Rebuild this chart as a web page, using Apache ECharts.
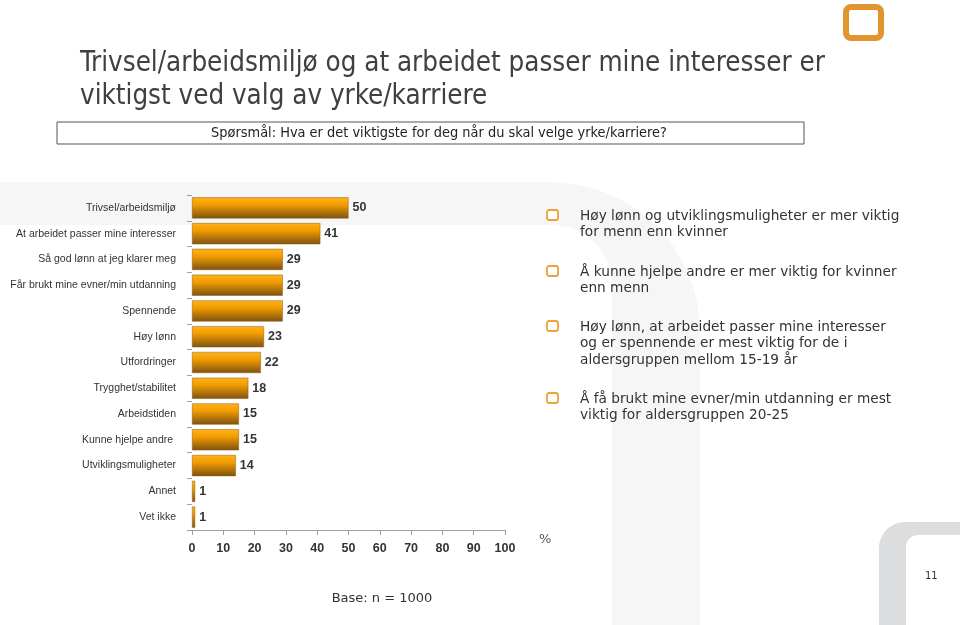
<!DOCTYPE html>
<html>
<head>
<meta charset="utf-8">
<script src="https://cdn.jsdelivr.net/npm/echarts@6/dist/echarts.min.js"></script>
<style>
  html, body { margin: 0; padding: 0; background: #fff; }
  #main { width: 960px; height: 625px; }
</style>
</head>
<body>
<div id="main"></div>
<script>
// answers, top to bottom
const categories = [
  'Trivsel/arbeidsmiljø',
  'At arbeidet passer mine interesser',
  'Så god lønn at jeg klarer meg',
  'Får brukt mine evner/min utdanning',
  'Spennende',
  'Høy lønn',
  'Utfordringer',
  'Trygghet/stabilitet',
  'Arbeidstiden',
  'Kunne hjelpe andre ',
  'Utviklingsmuligheter',
  'Annet',
  'Vet ikke'
];
const percent = [50, 41, 29, 29, 29, 23, 22, 18, 15, 15, 14, 1, 1];
const xTicks = [0, 10, 20, 30, 40, 50, 60, 70, 80, 90, 100];

const bullets = [
  ['Høy lønn og utviklingsmuligheter er mer viktig', 'for menn enn kvinner'],
  ['Å kunne hjelpe andre er mer viktig for kvinner', 'enn menn'],
  ['Høy lønn, at arbeidet passer mine interesser', 'og er spennende er mest viktig for de i', 'aldersgruppen mellom 15-19 år'],
  ['Å få brukt mine evner/min utdanning er mest', 'viktig for aldersgruppen 20-25']
];
const bulletTop = [215, 271, 326, 398];

const sans = 'DejaVu Sans, Verdana, sans-serif';
const narrow = 'DejaVu Sans Condensed, DejaVu Sans, sans-serif';

const graphics = [
  // big light arch in the background (outer shape, then white inside)
  {
    type: 'rect', x: 0, y: 182, z: -30, silent: true,
    shape: { width: 700, height: 443, r: [0, 150, 0, 0] },
    style: { fill: '#f6f6f6' }
  },
  {
    type: 'rect', x: 0, y: 225, z: -29, silent: true,
    shape: { width: 612, height: 400, r: [0, 60, 0, 0] },
    style: { fill: '#fff' }
  },
  // page corner
  {
    type: 'rect', x: 879, y: 522, z: -30, silent: true,
    shape: { width: 90, height: 110, r: [26, 0, 0, 0] },
    style: { fill: '#dcdddf' }
  },
  {
    type: 'rect', x: 906, y: 535, z: -29, silent: true,
    shape: { width: 60, height: 100, r: [12, 0, 0, 0] },
    style: { fill: '#fff' }
  },
  { type: 'text', x: 925, y: 571, style: { text: '11', font: '10px ' + sans, fill: '#333' } },
  // logo
  {
    type: 'rect', x: 846, y: 7, silent: true,
    shape: { width: 35, height: 31, r: 5 },
    style: { fill: '#fff', stroke: '#e0952f', lineWidth: 6 }
  },
  // title
  {
    type: 'text', x: 80, y: 47,
    style: {
      text: 'Trivsel/arbeidsmiljø og at arbeidet passer mine interesser er\nviktigst ved valg av yrke/karriere',
      font: '27.5px ' + narrow, fill: '#404040', lineHeight: 33
    }
  },
  // question box
  {
    type: 'rect', x: 57, y: 122, silent: true,
    shape: { width: 747, height: 22 },
    style: { fill: '#fff', stroke: '#555', lineWidth: 1 }
  },
  {
    type: 'text', x: 439, y: 133,
    style: {
      text: 'Spørsmål: Hva er det viktigste for deg når du skal velge yrke/karriere?',
      font: '14.4px ' + narrow, fill: '#222', align: 'center', verticalAlign: 'middle'
    }
  },
  { type: 'text', x: 539, y: 533, style: { text: '%', font: '13px ' + sans, fill: '#555' } },
  { type: 'text', x: 382, y: 599, style: { text: 'Base: n = 1000', font: '13px ' + sans, fill: '#333', align: 'center', verticalAlign: 'middle' } }
];

bullets.forEach(function (lines, i) {
  graphics.push({
    type: 'rect', x: 547, y: bulletTop[i] - 5, silent: true,
    shape: { width: 11, height: 10, r: 2 },
    style: { fill: '#fff', stroke: '#e8a33a', lineWidth: 1.8 }
  });
  graphics.push({
    type: 'text', x: 580, y: bulletTop[i] - 7,
    style: { text: lines.join('\n'), font: '13.7px ' + sans, fill: '#333', lineHeight: 16.6 }
  });
});

const chart = echarts.init(document.getElementById('main'), null, { renderer: 'canvas' });
chart.setOption({
  animation: false,
  backgroundColor: '#fff',
  graphic: graphics,
  grid: { left: 192, right: 455, top: 195, bottom: 95, containLabel: false },
  xAxis: {
    type: 'value', min: 0, max: 100, interval: 10,
    splitLine: { show: false },
    axisLine: { show: true, lineStyle: { color: '#a0a0a0' } },
    axisTick: { show: true, length: 5, lineStyle: { color: '#a0a0a0' } },
    axisLabel: {
      margin: 12, color: '#333', fontWeight: 'bold', fontSize: 12.5,
      fontFamily: 'Liberation Sans, Arial, sans-serif',
      formatter: function (v) { return xTicks.indexOf(v) >= 0 ? String(v) : ''; }
    }
  },
  yAxis: {
    type: 'category', inverse: true, data: categories,
    axisLine: { show: false },
    axisTick: { show: true, length: 5, lineStyle: { color: '#a0a0a0' } },
    axisLabel: {
      margin: 16, color: '#333', fontSize: 10.5,
      fontFamily: 'Liberation Sans, Arial, sans-serif'
    }
  },
  series: [{
    type: 'bar',
    data: percent,
    barCategoryGap: '18%',
    itemStyle: {
      color: {
        type: 'linear', x: 0, y: 0, x2: 0, y2: 1,
        colorStops: [
          { offset: 0, color: '#ffb31a' },
          { offset: 0.35, color: '#f29c00' },
          { offset: 1, color: '#7d5212' }
        ]
      },
      borderColor: '#8a5c16',
      borderWidth: 0.5
    },
    label: {
      show: true, position: 'right', distance: 4,
      color: '#333', fontWeight: 'bold', fontSize: 12.5,
      fontFamily: 'Liberation Sans, Arial, sans-serif'
    }
  }]
});
</script>
</body>
</html>
